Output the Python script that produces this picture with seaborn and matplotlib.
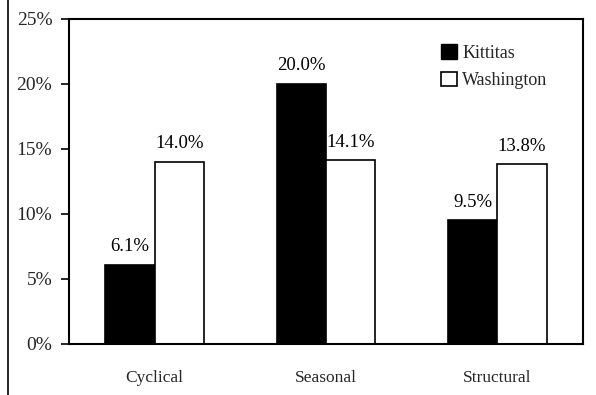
import matplotlib
matplotlib.use("Agg")
import matplotlib.pyplot as plt
import seaborn as sns
import pandas as pd
from matplotlib.lines import Line2D
from matplotlib.patches import Patch

categories = ["Cyclical", "Seasonal", "Structural"]
regions = ["Kittitas", "Washington"]
kittitas = [6.1, 20.0, 9.5]
washington = [14.0, 14.1, 13.8]
y_ticks = [0, 5, 10, 15, 20, 25]

df = pd.DataFrame({
    "category": categories * 2,
    "region": [regions[0]] * 3 + [regions[1]] * 3,
    "value": kittitas + washington,
})

sns.set_theme(style="white")
plt.rcParams["font.family"] = ["Liberation Serif", "DejaVu Serif"]

fig = plt.figure(figsize=(5.96, 3.95), dpi=100)
ax = fig.add_axes([69 / 596, 1 - 344 / 395, (583 - 69) / 596, (344 - 18.5) / 395])

sns.barplot(data=df, x="category", y="value", hue="region",
            palette={"Kittitas": "black", "Washington": "white"},
            width=0.575, gap=0, edgecolor="black", linewidth=1.2,
            legend=False, ax=ax)

for cont in ax.containers:
    for bar in cont:
        h = bar.get_height()
        ax.annotate(f"{h:.1f}%", (bar.get_x() + bar.get_width() / 2, h),
                    xytext=(0, 7), textcoords="offset points",
                    ha="center", va="bottom", fontsize=13.5, color="black")

ax.set_xlim(-0.5, 2.5)
ax.set_ylim(0, 25)
ax.set_yticks(y_ticks)
ax.set_yticklabels([f"{v}%" for v in y_ticks], fontsize=14)
ax.tick_params(axis="y", direction="out", length=6, width=1.2, color="black", pad=6, left=True)
ax.tick_params(axis="x", length=0, pad=19, labelsize=12.5)
ax.set_xlabel("")
ax.set_ylabel("")
for s in ax.spines.values():
    s.set_visible(True)
    s.set_color("black")
    s.set_linewidth(1.5)

handles = [Patch(facecolor="black", edgecolor="black", label="Kittitas"),
           Patch(facecolor="white", edgecolor="black", linewidth=1.2, label="Washington")]
ax.legend(handles=handles, loc="upper left", bbox_to_anchor=(0.70, 0.96),
          frameon=False, fontsize=13, handlelength=0.85, handleheight=0.85,
          handletextpad=0.3, labelspacing=0.55, borderpad=0.2)

fig.add_artist(Line2D([8 / 596, 8 / 596], [0, 1], color="black", linewidth=1.2,
                      transform=fig.transFigure))

fig.savefig("out.png", dpi=100, facecolor="white")
